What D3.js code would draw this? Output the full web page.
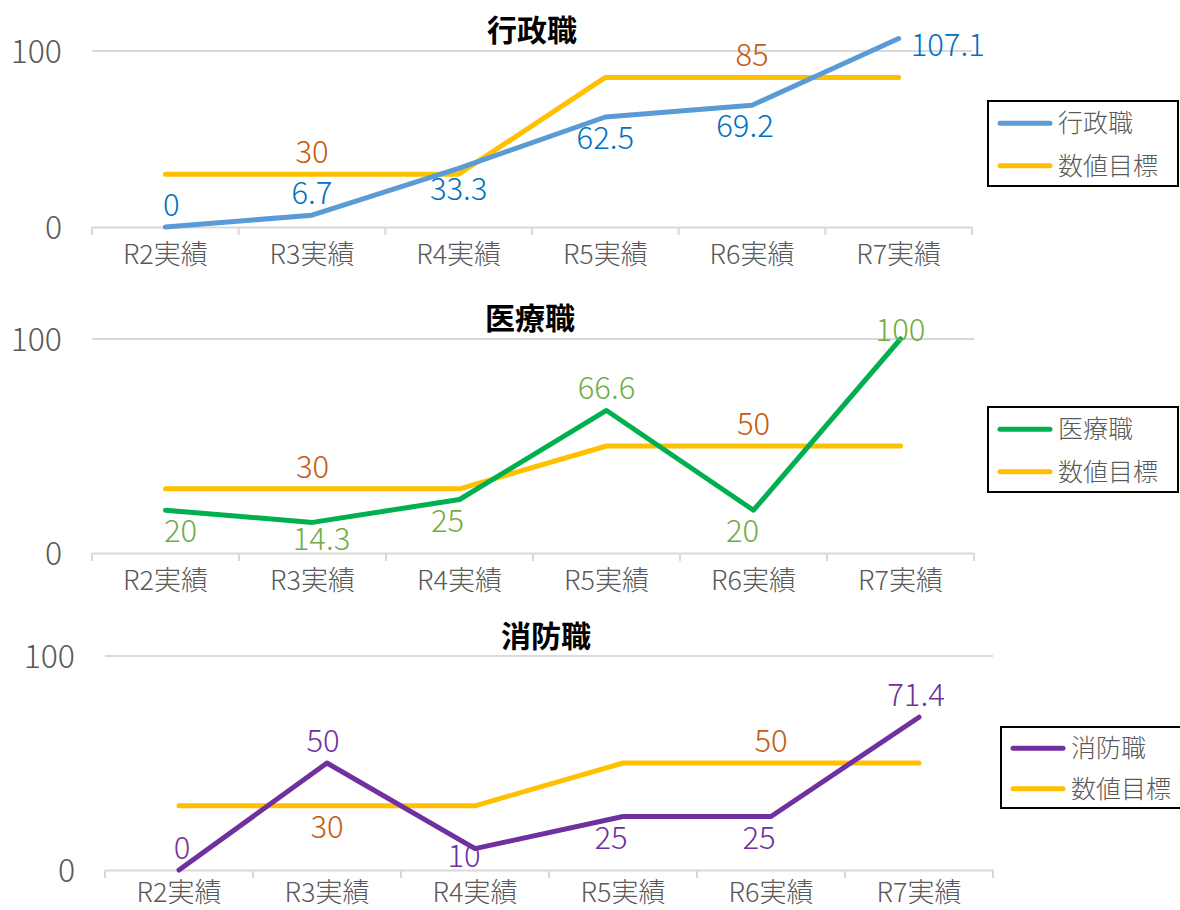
<!DOCTYPE html>
<html>
<head>
<meta charset="utf-8">
<script src="https://cdn.jsdelivr.net/npm/d3@7"></script>
<style>
  body { margin: 0; background: #fff; }
  text { font-family: "Noto Sans CJK JP", "Noto Sans", sans-serif; font-weight: 300; }
</style>
</head>
<body>
<div id="chart-area"></div>
<script>
var categories = ["R2実績", "R3実績", "R4実績", "R5実績", "R6実績", "R7実績"];
var yTicks = [0, 100];

var gyoseiActual = [0, 6.7, 33.3, 62.5, 69.2, 107.1];
var gyoseiTarget = [30, 30, 30, 85, 85, 85];
var iryoActual = [20, 14.3, 25, 66.6, 20, 100];
var iryoTarget = [30, 30, 30, 50, 50, 50];
var shoboActual = [0, 50, 10, 25, 25, 71.4];
var shoboTarget = [30, 30, 30, 50, 50, 50];

var targetName = "数値目標";
var targetLabelIdx = [1, 4];

var svg = d3.select("#chart-area")
  .append("svg")
  .attr("width", 1180)
  .attr("height", 910);

// layout per panel (positions only)
var panels = [
  {
    title: "行政職", actual: gyoseiActual, target: gyoseiTarget,
    color: "#5B9BD5", labelColor: "#0070C0",
    x0: 92, x1: 972, yTop: 51, yBot: 227, titleX: 532, titleY: 41, tickRight: 62, xPad: 20,
    place: ["above", "above", "below", "below", "below", "right"],
    dx: [6, 0, 0, 0, -7, 0],
    targetPlace: ["above", "above"],
    legend: { x: 988, y: 101, w: 190, h: 85 }
  },
  {
    title: "医療職", actual: iryoActual, target: iryoTarget,
    color: "#00B050", labelColor: "#70AD47",
    x0: 92, x1: 974, yTop: 339, yBot: 553, titleX: 530, titleY: 329, tickRight: 62, xPad: 20,
    place: ["below", "tight", "below", "above", "below", "over"],
    dx: [15, 9, -12, 0, -11, 0],
    targetPlace: ["above", "above"],
    legend: { x: 988, y: 407, w: 190, h: 85 }
  },
  {
    title: "消防職", actual: shoboActual, target: shoboTarget,
    color: "#7030A0", labelColor: "#7030A0",
    x0: 105, x1: 993, yTop: 656, yBot: 870, titleX: 546, titleY: 647, tickRight: 75, xPad: 15,
    place: ["above", "above", "near", "below", "below", "above"],
    dx: [3, -4, -11, -12, -12, -3],
    targetPlace: ["below", "above"],
    legend: { x: 1001, y: 727, w: 182, h: 81 }
  }
];

panels.forEach(function(p) {
  var g = svg.append("g");

  var x = d3.scalePoint()
    .domain(categories)
    .range([p.x0, p.x1])
    .padding(0.5);

  var xb = d3.scaleBand()
    .domain(categories)
    .range([p.x0, p.x1]);

  var y = d3.scaleLinear()
    .domain([0, 100])
    .range([p.yBot, p.yTop]);

  // gridline at 100
  g.append("line")
    .attr("x1", p.x0).attr("x2", p.x1)
    .attr("y1", y(100)).attr("y2", y(100))
    .attr("stroke", "#D9D9D9").attr("stroke-width", 2);

  // y labels
  var yAxis = d3.axisLeft(y).tickValues(yTicks).tickSize(0).tickPadding(p.x0 - p.tickRight);
  var ya = g.append("g")
    .attr("transform", "translate(" + p.x0 + ",0)")
    .call(yAxis);
  ya.select(".domain").remove();
  ya.selectAll("text")
    .attr("font-family", "'Noto Sans CJK JP', sans-serif")
    .attr("font-size", "32px")
    .attr("fill", "#595959")
    .attr("dy", "0.35em");

  // x axis
  var xAxis = d3.axisBottom(xb).tickSize(0).tickPadding(p.xPad);
  var xa = g.append("g")
    .attr("transform", "translate(0," + p.yBot + ")")
    .call(xAxis);
  xa.select(".domain").attr("stroke", "#D9D9D9").attr("stroke-width", 2);
  xa.selectAll("text")
    .attr("font-family", "'Noto Sans CJK JP', sans-serif")
    .attr("font-size", "27px")
    .attr("fill", "#595959")
    .attr("dy", "0.62em");
  // tick marks at category boundaries
  var bounds = categories.map(function(c) { return xb(c); }).concat([p.x1]);
  g.selectAll(".bnd")
    .data(bounds)
    .enter()
    .append("line")
    .attr("x1", function(d) { return d; }).attr("x2", function(d) { return d; })
    .attr("y1", p.yBot).attr("y2", p.yBot + 8)
    .attr("stroke", "#D9D9D9").attr("stroke-width", 2);

  // title
  g.append("text")
    .attr("x", p.titleX)
    .attr("y", p.titleY)
    .attr("text-anchor", "middle")
    .attr("font-size", "30px")
    .style("font-weight", "700")
    .attr("fill", "#000")
    .text(p.title);

  var line = d3.line()
    .x(function(d, i) { return x(categories[i]); })
    .y(function(d) { return y(d); });

  g.append("path")
    .datum(p.target)
    .attr("d", line)
    .attr("fill", "none")
    .attr("stroke", "#FFC000")
    .attr("stroke-width", 5)
    .attr("stroke-linecap", "round")
    .attr("stroke-linejoin", "round");

  g.append("path")
    .datum(p.actual)
    .attr("d", line)
    .attr("fill", "none")
    .attr("stroke", p.color)
    .attr("stroke-width", 5)
    .attr("stroke-linecap", "round")
    .attr("stroke-linejoin", "round");

  // actual labels
  var offs = { above: -11, below: 32, tight: 28, near: 18, over: 2, right: 17 };
  g.selectAll(".alab")
    .data(p.actual)
    .enter()
    .append("text")
    .attr("x", function(d, i) {
      var px = x(categories[i]) + p.dx[i];
      return p.place[i] === "right" ? px + 12 : px;
    })
    .attr("y", function(d, i) { return y(d) + offs[p.place[i]]; })
    .attr("text-anchor", function(d, i) { return p.place[i] === "right" ? "start" : "middle"; })
    .attr("font-size", "31px")
    .attr("fill", p.labelColor)
    .text(function(d) { return d; });

  // target labels
  g.selectAll(".tlab")
    .data(targetLabelIdx)
    .enter()
    .append("text")
    .attr("x", function(i) { return x(categories[i]); })
    .attr("y", function(i, k) { return y(p.target[i]) + offs[p.targetPlace[k]]; })
    .attr("text-anchor", "middle")
    .attr("font-size", "31px")
    .attr("fill", "#C55A11")
    .text(function(i) { return p.target[i]; });

  // legend
  var L = p.legend;
  g.append("rect")
    .attr("x", L.x).attr("y", L.y)
    .attr("width", L.w).attr("height", L.h)
    .attr("fill", "#fff")
    .attr("stroke", "#000")
    .attr("stroke-width", 2);
  var items = [{ name: p.title, color: p.color }, { name: targetName, color: "#FFC000" }];
  var step = L.h / 2;
  var lg = g.selectAll(".leg")
    .data(items)
    .enter()
    .append("g")
    .attr("transform", function(d, i) { return "translate(" + (L.x + 12) + "," + (L.y + step * (i + 0.5) + 1) + ")"; });
  lg.append("line")
    .attr("x1", 0).attr("x2", 50)
    .attr("y1", 0).attr("y2", 0)
    .attr("stroke", function(d) { return d.color; })
    .attr("stroke-width", 5)
    .attr("stroke-linecap", "round");
  lg.append("text")
    .attr("x", 58)
    .attr("y", 0)
    .attr("dy", "0.35em")
    .attr("font-size", "25px")
    .attr("fill", "#595959")
    .text(function(d) { return d.name; });
});
</script>
</body>
</html>
